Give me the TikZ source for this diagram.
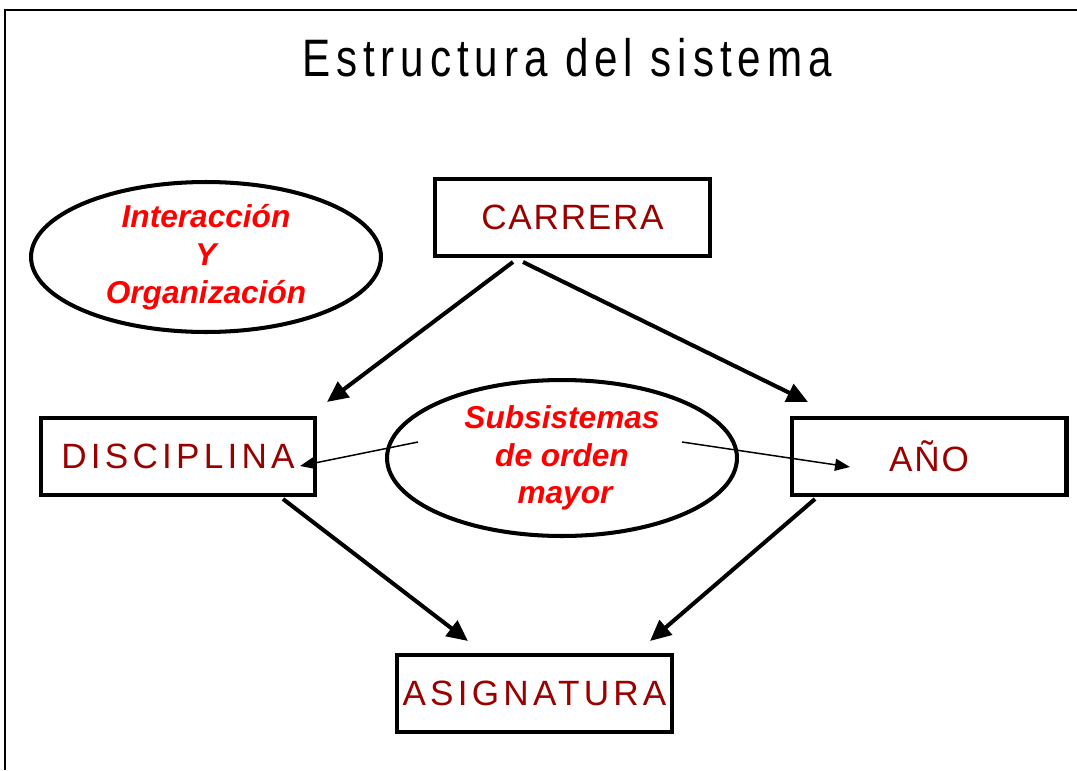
\documentclass[tikz,border=0pt]{standalone}
\usepackage{fontspec}
\setmainfont{Liberation Sans}
\newfontfamily\titlefont[LetterSpace=14]{Liberation Sans}
\newfontfamily\boxfont[LetterSpace=5]{Liberation Sans}
\newfontfamily\wideboxfont[LetterSpace=12]{Liberation Sans}
\usetikzlibrary{shapes.geometric,arrows.meta}
\definecolor{boxred}{HTML}{990000}
\definecolor{ovalred}{HTML}{FF0000}
\begin{document}
\begin{tikzpicture}[x=0.02cm,y=-0.02cm,
  box/.style={draw,line width=2.3pt,minimum width=5.5cm,minimum height=1.54cm,inner sep=0pt,text=boxred,font=\boxfont\fontsize{20}{24}\selectfont},
  widebox/.style={box,font=\wideboxfont\fontsize{20}{24}\selectfont},
  oval/.style={ellipse,draw,line width=2.3pt,inner sep=0pt,align=center,text=ovalred,font=\bfseries\itshape\fontsize{18}{21.5}\selectfont},
  thickarrow/.style={line width=2.3pt,-{Triangle[length=0.42cm,width=0.38cm]}},
  thinarrow/.style={line width=0.85pt,-{Triangle[length=0.3cm,width=0.24cm]}}]
\useasboundingbox (0,0) rectangle (1077,770);
\draw[line width=0.7pt] (5,770) -- (5,10) -- (1077,10);
\node (title) at (567,58) {\scalebox{0.8}[1]{\titlefont\fontsize{30}{36}\selectfont Estructura del sistema}};
\node[box] (carrera) at (572.5,217.5) {CARRERA};
\node[widebox] (disciplina) at (178,456.5) {DISCIPLINA};
\node[box] (anio) at (929,456.5) {AÑO};
\node[widebox] (asignatura) at (534.5,693.5) {ASIGNATURA};
\node[oval,minimum width=7cm,minimum height=3cm] (interaccion) at (206,257) {Interacción\\Y\\Organización};
\node[oval,minimum width=7cm,minimum height=3.12cm] (subsistemas) at (562,458) {Subsistemas\\de orden\hspace*{0.4cm}\\\hspace*{0.12cm}mayor};
\coordinate (c1) at (513,262);
\coordinate (c2) at (523,262);
\coordinate (d1) at (327,402);
\coordinate (a1) at (808,402);
\coordinate (d2) at (283,499);
\coordinate (a2) at (815,499);
\coordinate (s1) at (468,641);
\coordinate (s2) at (650,641);
\coordinate (o1) at (418,442);
\coordinate (o2) at (682,442);
\coordinate (t1) at (300,466);
\coordinate (t2) at (850,467);
\draw[thickarrow] (c1) -- (d1);
\draw[thickarrow] (c2) -- (a1);
\draw[thickarrow] (d2) -- (s1);
\draw[thickarrow] (a2) -- (s2);
\draw[thinarrow] (o1) -- (t1);
\draw[thinarrow] (o2) -- (t2);
\end{tikzpicture}
\end{document}
